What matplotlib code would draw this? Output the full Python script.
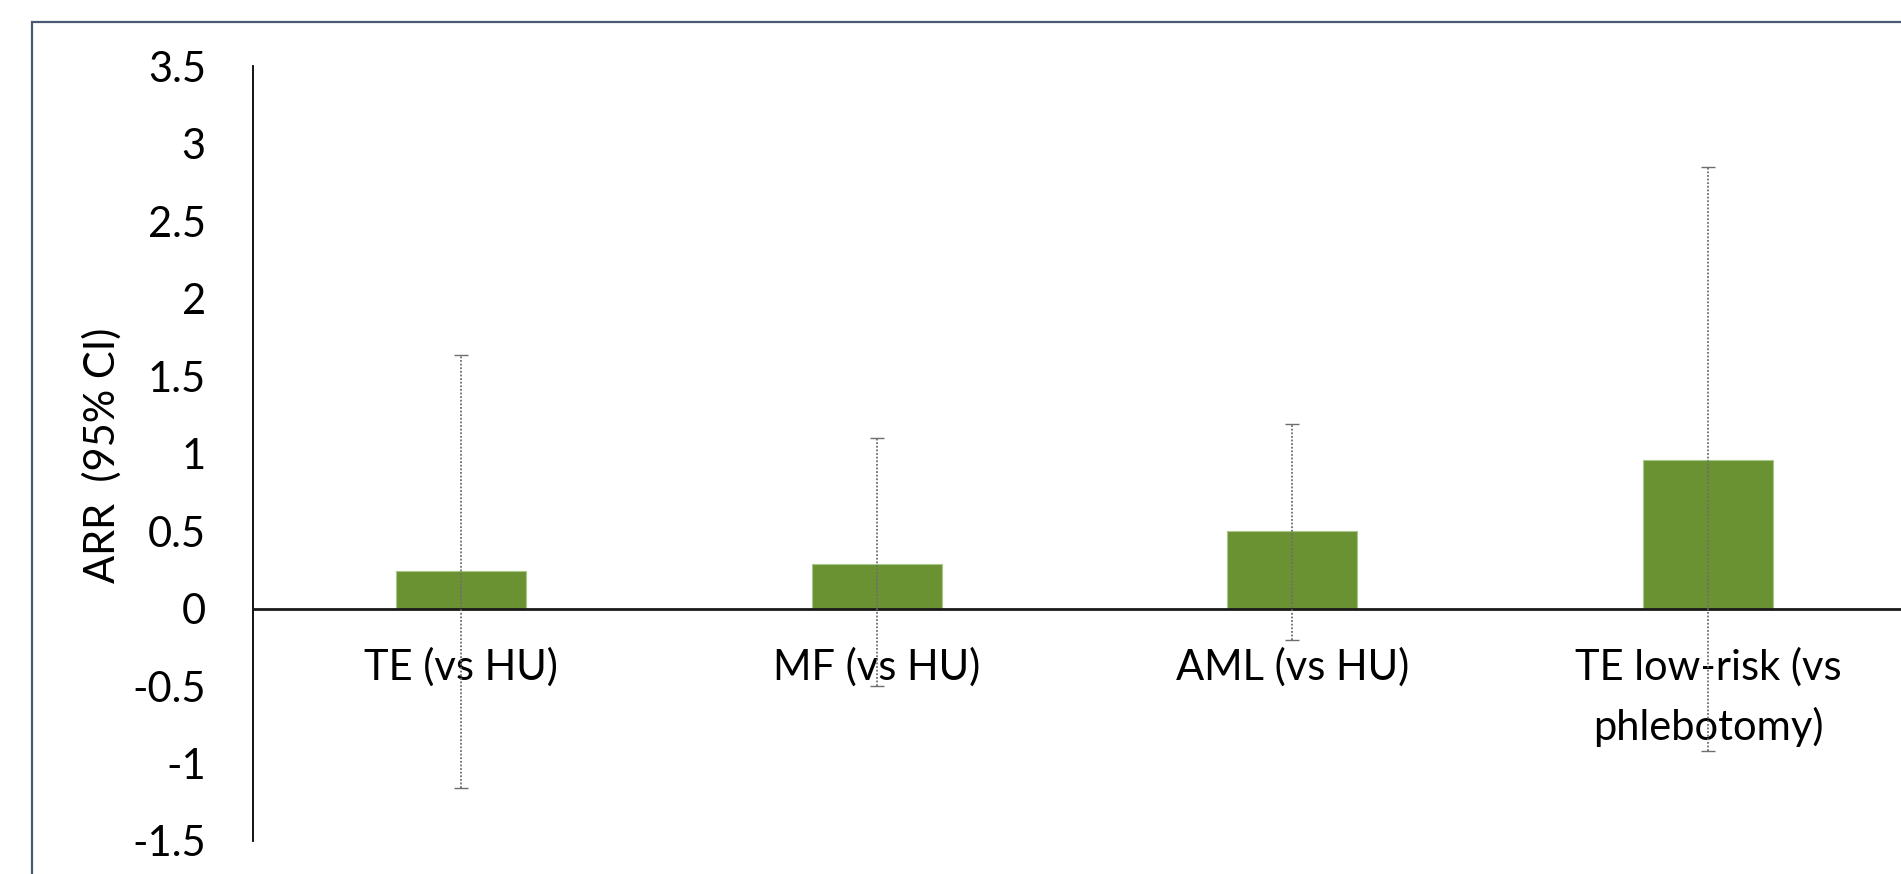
import matplotlib.pyplot as plt
from matplotlib.patches import Rectangle
import numpy as np

plt.rcParams['font.family'] = ['Lato', 'DejaVu Sans']

categories = ['TE (vs HU)', 'MF (vs HU)', 'AML (vs HU)', 'TE low-risk (vs\nphlebotomy)']
arr = [0.24, 0.29, 0.50, 0.96]
ci_low = [-1.16, -0.50, -0.20, -0.92]
ci_high = [1.64, 1.10, 1.19, 2.85]
yticks = [-1.5, -1, -0.5, 0, 0.5, 1, 1.5, 2, 2.5, 3, 3.5]

W, H = 1901, 874
fig = plt.figure(figsize=(W / 100, H / 100), dpi=100)
# plot area runs a little past the right edge, as in the cropped original
ax = fig.add_axes([253 / W, 1 - 841 / H, (1916 - 253) / W, (841 - 66.5) / H])

x = np.arange(len(categories))
ax.bar(x, arr, width=0.313, color='#6A9232', edgecolor='#A8C88A', linewidth=0.8, zorder=1)

yerr = [np.array(arr) - np.array(ci_low), np.array(ci_high) - np.array(arr)]
eb = ax.errorbar(x, arr, yerr=yerr, fmt='none', ecolor='#6E6E6E', elinewidth=1.3,
                 capsize=5, capthick=1.0, zorder=3)
eb[2][0].set_linestyle((0, (1, 1)))

ax.set_xlim(-0.5, 3.5)
ax.set_ylim(-1.5, 3.5)

ax.spines['top'].set_visible(False)
ax.spines['right'].set_visible(False)
ax.spines['left'].set_linewidth(1.3)
ax.spines['bottom'].set_position(('data', 0))
ax.spines['bottom'].set_linewidth(2.0)
ax.spines['bottom'].set_color('#1a1a1a')

ax.set_yticks(yticks)
ax.set_yticklabels(['{:g}'.format(v) for v in yticks])
ax.set_xticks(x)
ax.set_xticklabels(categories, linespacing=1.6)
ax.tick_params(axis='y', length=0, pad=34, labelsize=30)
ax.tick_params(axis='x', length=0, pad=28, labelsize=30)

fig.text(102 / W, 1 - 455 / H, 'ARR  (95% CI)', rotation=90, fontsize=30,
         ha='center', va='center')

fig.patches.append(Rectangle((32 / W, -0.1), 1.2, 1.1 - 22 / H, transform=fig.transFigure,
                             fill=False, edgecolor='#4A5A72', linewidth=1.6))

fig.savefig('out.png', dpi=100)
